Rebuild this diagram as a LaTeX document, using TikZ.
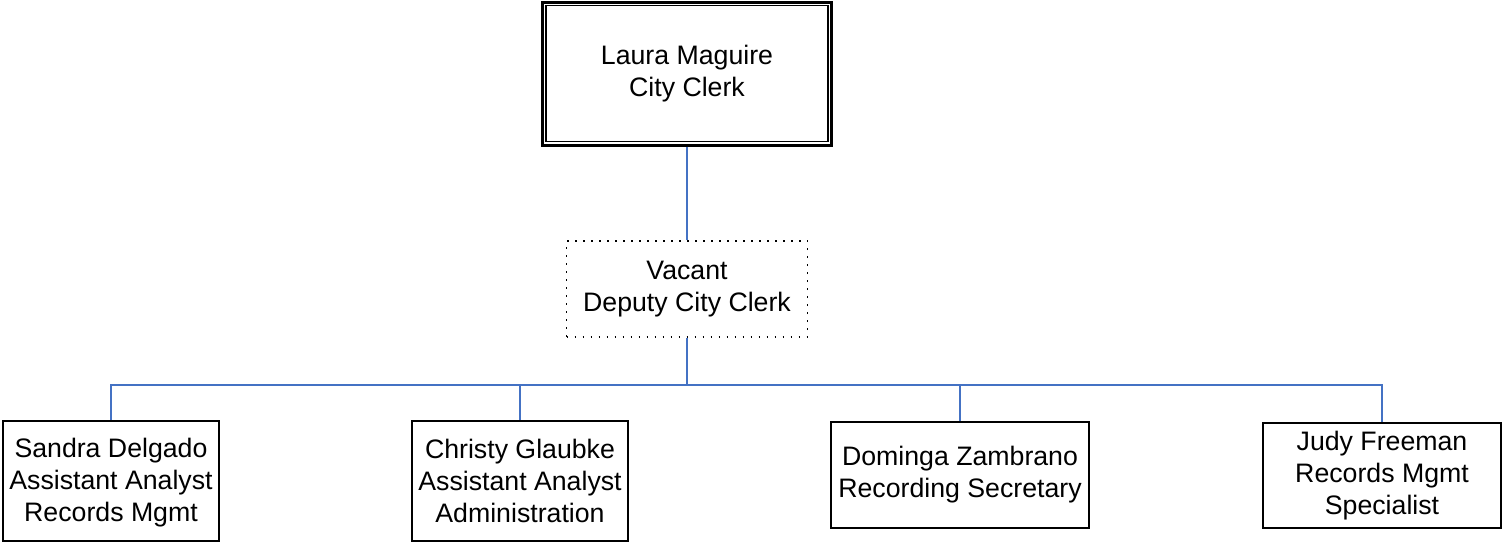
\documentclass[tikz,border=0pt]{standalone}
\usepackage{fontspec}
\setmainfont{Liberation Sans}
\definecolor{linkblue}{HTML}{4472C4}
\begin{document}
\begin{tikzpicture}[x=1pt,y=-1pt,
  boxtext/.style={align=center,inner sep=0pt,font=\fontsize{26.7}{32}\selectfont},
  staffbox/.style={boxtext,draw=black,line width=2.2pt,fill=white},
  vacbox/.style={boxtext,draw=black,line width=1.6pt,dash pattern=on 1.6pt off 6.4pt},
  link/.style={draw=linkblue,line width=1.6pt}]
\useasboundingbox (0,0) rectangle (1503,542);
\node[staffbox,line width=3pt,minimum width=289pt,minimum height=143pt] (top) at (687,73.5) {Laura Maguire\\City Clerk};
\draw[line width=1.2pt] ([shift={(5pt,-5pt)}]top.north west) rectangle ([shift={(-5pt,5pt)}]top.south east);
\node[vacbox,minimum width=241pt,minimum height=96pt] (vac) at (687,289) {Vacant\\Deputy City Clerk};
\coordinate (bus) at (687,385);
\node[staffbox,minimum width=216pt,minimum height=120pt,text depth=2pt] (b1) at (111,481) {Sandra Delgado\\Assistant Analyst\\Records Mgmt};
\node[staffbox,minimum width=216pt,minimum height=120pt] (b2) at (520,481) {Christy Glaubke\\Assistant Analyst\\Administration};
\node[staffbox,minimum width=258pt,minimum height=106pt] (b3) at (960,475) {Dominga Zambrano\\Recording Secretary};
\node[staffbox,minimum width=238pt,minimum height=105pt] (b4) at (1382,475.5) {Judy Freeman\\Records Mgmt\\Specialist};
\draw[link] (top.south) -- (vac.north);
\draw[link] (vac.south) -- (bus);
\draw[link] (b1.north) |- (bus);
\draw[link] (b2.north) |- (bus);
\draw[link] (b3.north) |- (bus);
\draw[link] (b4.north) |- (bus);
\end{tikzpicture}
\end{document}
